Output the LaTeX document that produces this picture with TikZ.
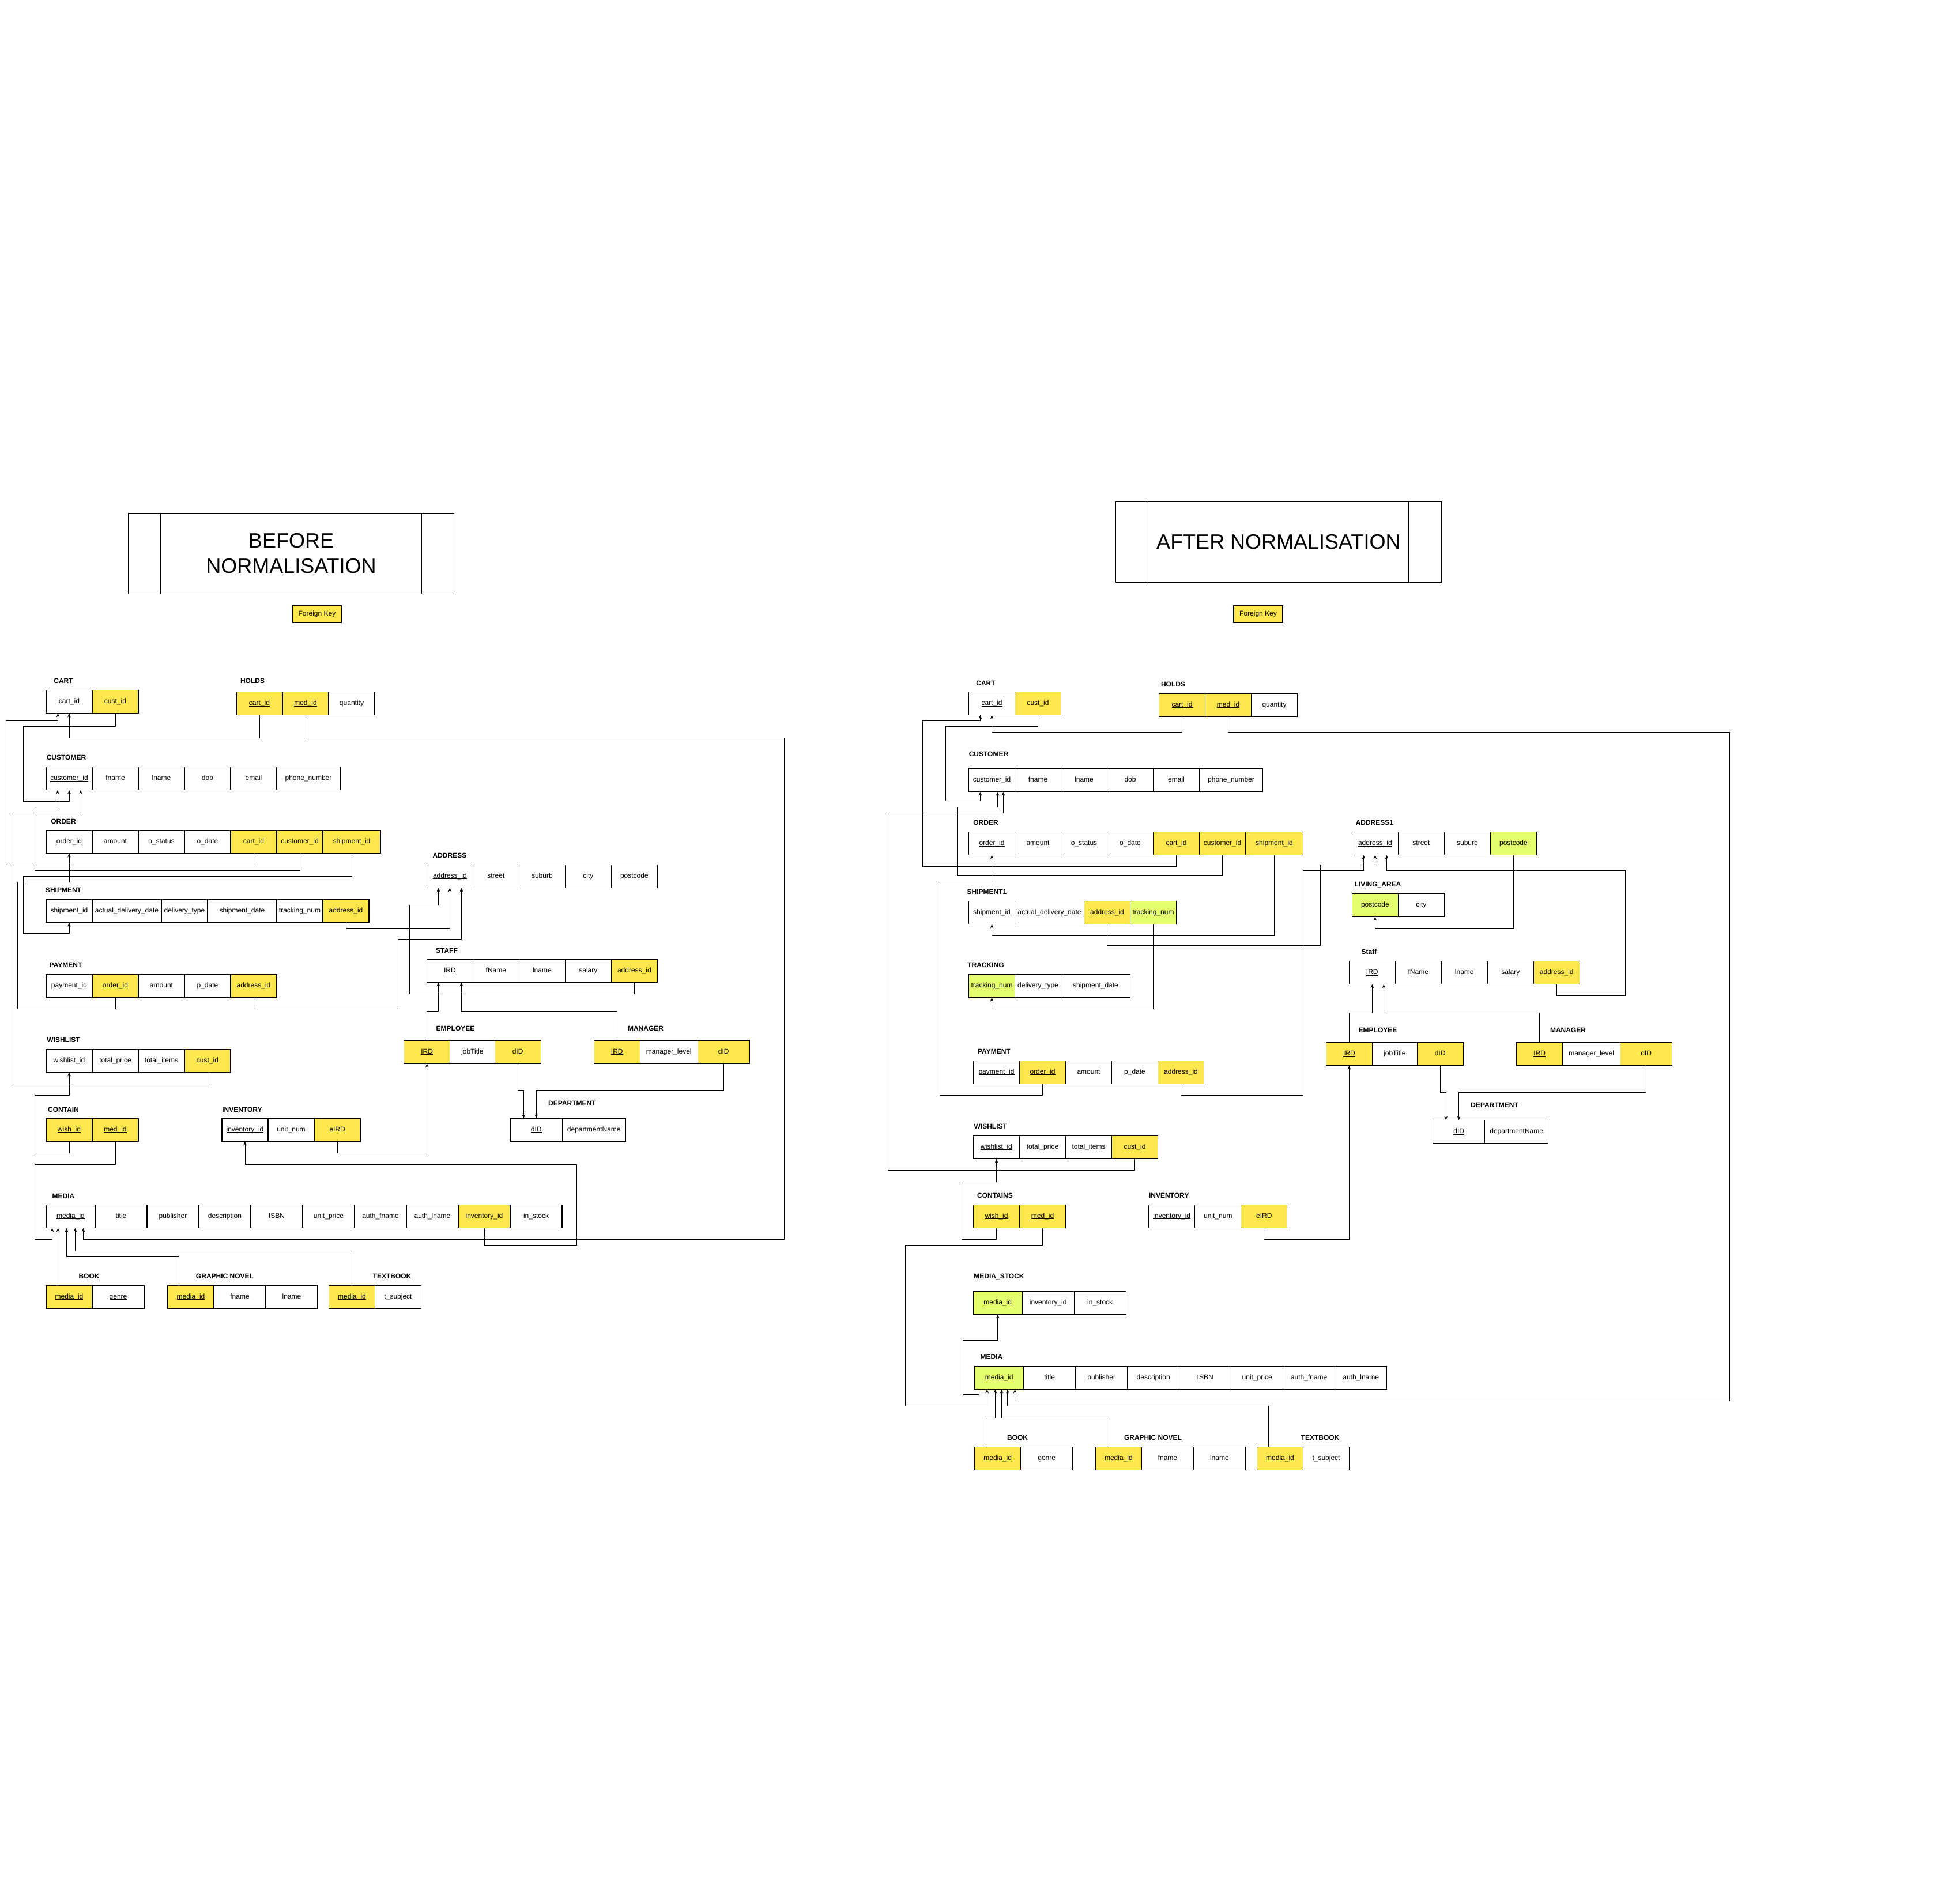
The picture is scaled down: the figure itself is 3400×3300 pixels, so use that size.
\documentclass[tikz,border=0pt]{standalone}
\usepackage{fontspec}
\setmainfont{Liberation Sans}
\usetikzlibrary{positioning}
\usetikzlibrary{arrows.meta}
\definecolor{fkyellow}{HTML}{FFE84D}
\definecolor{nfgreen}{HTML}{E6FF6E}
\newcommand{\pkey}[1]{\setbox0\hbox{#1}\rlap{\rule[-1.8pt]{\wd0}{0.8pt}}\box0}
\tikzset{x=1pt, y=-1pt, >={Stealth[length=7pt,width=5.5pt]}, line width=0.9pt}
\tikzstyle{attr} = [draw, fill=white, rectangle, line width=1.2pt, minimum width=80pt, minimum height=40pt, inner sep=0pt, outer sep=0pt, text height=8.6pt, text depth=2.5pt, font=\fontsize{12}{12}\selectfont]
\tikzstyle{fkey} = [attr, fill=fkyellow]
\tikzstyle{newkey} = [attr, fill=nfgreen]
\tikzstyle{tname} = [inner sep=0pt, text height=8.6pt, text depth=0pt, font=\fontsize{12}{12}\selectfont\bfseries]
\tikzstyle{banner} = [draw, rectangle, line width=1.2pt, align=center, inner sep=0pt, font=\fontsize{36}{44}\selectfont]
\tikzstyle{link} = [->, line width=0.9pt]

\begin{document}
\begin{tikzpicture}
    \useasboundingbox (0,0) rectangle (3400,3300);

    % ---------------- before normalisation ----------------
    \node [banner, minimum width=565pt, minimum height=140pt] (before_title) at (505,960.4) {BEFORE\\NORMALISATION};
    \draw [line width=1.2pt] ([xshift=57pt]before_title.north west) -- ([xshift=57pt]before_title.south west);
    \draw [line width=1.2pt] ([xshift=-57pt]before_title.north east) -- ([xshift=-57pt]before_title.south east);
    \node [fkey, minimum width=85pt, minimum height=30pt] (before_fk) at (550,1065.6) {Foreign Key};

    \node [tname] (b_cart_lbl) at (110,1181) {CART};
    \node [attr, anchor=north west] (b_cart_id) at (80,1197.4) {\pkey{cart\_id}};
    \node [fkey, right=0pt of b_cart_id] (b_cart_cust) {cust\_id};

    \node [tname] (b_holds_lbl) at (438,1181) {HOLDS};
    \node [fkey, anchor=north west] (b_holds_cart) at (410,1200.5) {\pkey{cart\_id}};
    \node [fkey, right=0pt of b_holds_cart] (b_holds_med) {\pkey{med\_id}};
    \node [attr, right=0pt of b_holds_med] (b_holds_qty) {quantity};

    \node [tname] (b_cust_lbl) at (115,1314.5) {CUSTOMER};
    \node [attr, anchor=north west] (b_cust_id) at (80,1330.6) {\pkey{customer\_id}};
    \node [attr, right=0pt of b_cust_id] (b_cust_fname) {fname};
    \node [attr, right=0pt of b_cust_fname] (b_cust_lname) {lname};
    \node [attr, right=0pt of b_cust_lname] (b_cust_dob) {dob};
    \node [attr, right=0pt of b_cust_dob] (b_cust_email) {email};
    \node [attr, right=0pt of b_cust_email, minimum width=110pt] (b_cust_phone) {phone\_number};

    \node [tname] (b_ord_lbl) at (110,1424.7) {ORDER};
    \node [attr, anchor=north west] (b_ord_id) at (80,1440.4) {\pkey{order\_id}};
    \node [attr, right=0pt of b_ord_id] (b_ord_amount) {amount};
    \node [attr, right=0pt of b_ord_amount] (b_ord_status) {o\_status};
    \node [attr, right=0pt of b_ord_status] (b_ord_date) {o\_date};
    \node [fkey, right=0pt of b_ord_date] (b_ord_cart) {cart\_id};
    \node [fkey, right=0pt of b_ord_cart] (b_ord_cust) {customer\_id};
    \node [fkey, right=0pt of b_ord_cust, minimum width=100pt] (b_ord_ship) {shipment\_id};

    \node [tname] (b_ship_lbl) at (110,1544.5) {SHIPMENT};
    \node [attr, anchor=north west] (b_ship_id) at (80,1560.6) {\pkey{shipment\_id}};
    \node [attr, right=0pt of b_ship_id, minimum width=120pt] (b_ship_adate) {actual\_delivery\_date};
    \node [attr, right=0pt of b_ship_adate] (b_ship_type) {delivery\_type};
    \node [attr, right=0pt of b_ship_type, minimum width=120pt] (b_ship_sdate) {shipment\_date};
    \node [attr, right=0pt of b_ship_sdate] (b_ship_track) {tracking\_num};
    \node [fkey, right=0pt of b_ship_track] (b_ship_addr) {address\_id};

    \node [tname] (b_pay_lbl) at (114,1674.2) {PAYMENT};
    \node [attr, anchor=north west] (b_pay_id) at (80,1690.3) {\pkey{payment\_id}};
    \node [fkey, right=0pt of b_pay_id] (b_pay_ord) {\pkey{order\_id}};
    \node [attr, right=0pt of b_pay_ord] (b_pay_amount) {amount};
    \node [attr, right=0pt of b_pay_amount] (b_pay_date) {p\_date};
    \node [fkey, right=0pt of b_pay_date] (b_pay_addr) {address\_id};

    \node [tname] (b_wish_lbl) at (110,1804.5) {WISHLIST};
    \node [attr, anchor=north west] (b_wish_id) at (80,1820.4) {\pkey{wishlist\_id}};
    \node [attr, right=0pt of b_wish_id] (b_wish_price) {total\_price};
    \node [attr, right=0pt of b_wish_price] (b_wish_items) {total\_items};
    \node [fkey, right=0pt of b_wish_items] (b_wish_cust) {cust\_id};

    \node [tname] (b_con_lbl) at (110,1924.7) {CONTAIN};
    \node [fkey, anchor=north west] (b_con_wish) at (80,1940.4) {\pkey{wish\_id}};
    \node [fkey, right=0pt of b_con_wish] (b_con_med) {\pkey{med\_id}};

    \node [tname] (b_inv_lbl) at (420,1924.7) {INVENTORY};
    \node [attr, anchor=north west] (b_inv_id) at (385,1940.4) {\pkey{inventory\_id}};
    \node [attr, right=0pt of b_inv_id] (b_inv_unit) {unit\_num};
    \node [fkey, right=0pt of b_inv_unit] (b_inv_eird) {eIRD};

    \node [tname] (b_media_lbl) at (110,2074.8) {MEDIA};
    \node [attr, anchor=north west, minimum width=85pt] (b_media_id) at (80,2090.4) {\pkey{media\_id}};
    \node [attr, right=0pt of b_media_id, minimum width=90pt] (b_media_title) {title};
    \node [attr, right=0pt of b_media_title, minimum width=90pt] (b_media_pub) {publisher};
    \node [attr, right=0pt of b_media_pub, minimum width=90pt] (b_media_desc) {description};
    \node [attr, right=0pt of b_media_desc, minimum width=90pt] (b_media_isbn) {ISBN};
    \node [attr, right=0pt of b_media_isbn, minimum width=90pt] (b_media_price) {unit\_price};
    \node [attr, right=0pt of b_media_price, minimum width=90pt] (b_media_afname) {auth\_fname};
    \node [attr, right=0pt of b_media_afname, minimum width=90pt] (b_media_alname) {auth\_lname};
    \node [fkey, right=0pt of b_media_alname, minimum width=90pt] (b_media_inv) {inventory\_id};
    \node [attr, right=0pt of b_media_inv, minimum width=90pt] (b_media_stock) {in\_stock};

    \node [tname] (b_book_lbl) at (154.5,2214.6) {BOOK};
    \node [fkey, anchor=north west] (b_book_id) at (80,2230.4) {\pkey{media\_id}};
    \node [attr, right=0pt of b_book_id, minimum width=90pt] (b_book_genre) {\pkey{genre}};

    \node [tname] (b_gn_lbl) at (390,2214.6) {GRAPHIC NOVEL};
    \node [fkey, anchor=north west] (b_gn_id) at (291,2230.4) {\pkey{media\_id}};
    \node [attr, right=0pt of b_gn_id, minimum width=90pt] (b_gn_fname) {fname};
    \node [attr, right=0pt of b_gn_fname, minimum width=90pt] (b_gn_lname) {lname};

    \node [tname] (b_tb_lbl) at (680,2214.6) {TEXTBOOK};
    \node [fkey, anchor=north west] (b_tb_id) at (570.5,2230.4) {\pkey{media\_id}};
    \node [attr, right=0pt of b_tb_id] (b_tb_subject) {t\_subject};

    \node [tname] (b_addr_lbl) at (780,1484.4) {ADDRESS};
    \node [attr, anchor=north west] (b_addr_id) at (740.4,1500.4) {\pkey{address\_id}};
    \node [attr, right=0pt of b_addr_id] (b_addr_street) {street};
    \node [attr, right=0pt of b_addr_street] (b_addr_suburb) {suburb};
    \node [attr, right=0pt of b_addr_suburb] (b_addr_city) {city};
    \node [attr, right=0pt of b_addr_city] (b_addr_post) {postcode};

    \node [tname] (b_staff_lbl) at (775,1648.7) {STAFF};
    \node [attr, anchor=north west] (b_staff_ird) at (740.4,1664.3) {\pkey{IRD}};
    \node [attr, right=0pt of b_staff_ird] (b_staff_fname) {fName};
    \node [attr, right=0pt of b_staff_fname] (b_staff_lname) {lname};
    \node [attr, right=0pt of b_staff_lname] (b_staff_salary) {salary};
    \node [fkey, right=0pt of b_staff_salary] (b_staff_addr) {address\_id};

    \node [tname] (b_emp_lbl) at (790,1784.4) {EMPLOYEE};
    \node [fkey, anchor=north west] (b_emp_ird) at (700.7,1805) {\pkey{IRD}};
    \node [attr, right=0pt of b_emp_ird, minimum width=77.4pt] (b_emp_job) {jobTitle};
    \node [fkey, right=0pt of b_emp_job] (b_emp_did) {dID};

    \node [tname] (b_mgr_lbl) at (1120,1784.4) {MANAGER};
    \node [fkey, anchor=north west] (b_mgr_ird) at (1030.3,1805) {\pkey{IRD}};
    \node [attr, right=0pt of b_mgr_ird, minimum width=100pt] (b_mgr_level) {manager\_level};
    \node [fkey, right=0pt of b_mgr_level, minimum width=90pt] (b_mgr_did) {dID};

    \node [tname] (b_dept_lbl) at (992.4,1914.6) {DEPARTMENT};
    \node [attr, anchor=north west, minimum width=90pt] (b_dept_id) at (885.3,1940.4) {\pkey{dID}};
    \node [attr, right=0pt of b_dept_id, minimum width=110pt] (b_dept_name) {departmentName};

    \draw [link] (b_ord_cart.south) |- (10,1500) -- (10,1250.3) -| ([xshift=-19.5pt]b_cart_id.south);
    \draw [link] (b_cart_cust.south) |- (40.6,1260.2) -- (40.6,1390.3) -| (b_cust_id.south);
    \draw [link] (b_holds_cart.south) |- (300,1280.1) -| (b_cart_id.south);
    \draw [link] (b_holds_med.south) |- (1360.3,1280.1) -- (1360.3,2150.1) -| ([xshift=22pt]b_media_id.south);
    \draw [link] (b_ord_cust.south) |- (60.3,1510.1) -- (60.3,1400.3) -| ([xshift=-20pt]b_cust_id.south);
    \draw [link] (b_wish_cust.south) |- (20.5,1880.4) -- (20.5,1410.2) -| ([xshift=20pt]b_cust_id.south);
    \draw [link] (b_ord_ship.south) |- (40.6,1520.4) -- (40.6,1619.9) -| (b_ship_id.south);
    \draw [link] (b_pay_ord.south) |- (30.4,1750.3) -- (30.4,1530.4) -| (b_ord_id.south);
    \draw [link] (b_ship_addr.south) |- (700,1610) -| (b_addr_id.south);
    \draw [link] (b_pay_addr.south) |- (690.6,1750.3) -- (690.6,1630.3) -| ([xshift=20pt]b_addr_id.south);
    \draw [link] (b_staff_addr.south) |- (710.3,1724.6) -- (710.3,1570.1) -| ([xshift=-20pt]b_addr_id.south);
    \draw [link] (b_emp_ird.north) |- (750,1754.9) -| ([xshift=-20pt]b_staff_ird.south);
    \draw [link] (b_mgr_ird.north) |- (900,1754.9) -| ([xshift=20pt]b_staff_ird.south);
    \draw [link] (b_emp_did.south) |- (903,1892.7) -| ([xshift=-22pt]b_dept_id.north);
    \draw [link] (b_mgr_did.south) |- (1000,1892.7) -| (b_dept_id.north);
    \draw [link] (b_inv_eird.south) |- (650,2000.4) -| (b_emp_ird.south);
    \draw [link] (b_media_inv.south) |- (1000.3,2160.4) -- (1000.3,2020.4) -| (b_inv_id.south);
    \draw [link] (b_con_wish.south) |- (60.3,2000.1) -- (60.3,1900.3) -| (b_wish_id.south);
    \draw [link] (b_con_med.south) |- (60.3,2020.4) -- (60.3,2150.1) -| ([xshift=-32pt]b_media_id.south);
    \draw [link] ([xshift=-19.4pt]b_book_id.north) -- ([xshift=-21.9pt]b_media_id.south);
    \draw [link] ([xshift=-20.7pt]b_gn_id.north) |- (200,2180.5) -| ([xshift=-7pt]b_media_id.south);
    \draw [link] (b_tb_id.north) |- (300,2170.4) -| ([xshift=8pt]b_media_id.south);

    % ---------------- after normalisation ----------------
    \node [banner, minimum width=565pt, minimum height=140pt] (after_title) at (2217.9,940.4) {AFTER NORMALISATION};
    \draw [line width=1.2pt] ([xshift=57pt]after_title.north west) -- ([xshift=57pt]after_title.south west);
    \draw [line width=1.2pt] ([xshift=-57pt]after_title.north east) -- ([xshift=-57pt]after_title.south east);
    \node [fkey, minimum width=85pt, minimum height=30pt] (after_fk) at (2182.5,1065.6) {Foreign Key};

    \node [tname] (a_cart_lbl) at (1710,1184.7) {CART};
    \node [attr, anchor=north west] (a_cart_id) at (1680.5,1200.5) {\pkey{cart\_id}};
    \node [fkey, right=0pt of a_cart_id] (a_cart_cust) {cust\_id};

    \node [tname] (a_holds_lbl) at (2035,1187.2) {HOLDS};
    \node [fkey, anchor=north west] (a_holds_cart) at (2010.5,1203.4) {\pkey{cart\_id}};
    \node [fkey, right=0pt of a_holds_cart] (a_holds_med) {\pkey{med\_id}};
    \node [attr, right=0pt of a_holds_med] (a_holds_qty) {quantity};

    \node [tname] (a_cust_lbl) at (1715,1307.7) {CUSTOMER};
    \node [attr, anchor=north west] (a_cust_id) at (1680.5,1333.6) {\pkey{customer\_id}};
    \node [attr, right=0pt of a_cust_id] (a_cust_fname) {fname};
    \node [attr, right=0pt of a_cust_fname] (a_cust_lname) {lname};
    \node [attr, right=0pt of a_cust_lname] (a_cust_dob) {dob};
    \node [attr, right=0pt of a_cust_dob] (a_cust_email) {email};
    \node [attr, right=0pt of a_cust_email, minimum width=110pt] (a_cust_phone) {phone\_number};

    \node [tname] (a_ord_lbl) at (1710,1427.6) {ORDER};
    \node [attr, anchor=north west] (a_ord_id) at (1680.5,1443.5) {\pkey{order\_id}};
    \node [attr, right=0pt of a_ord_id] (a_ord_amount) {amount};
    \node [attr, right=0pt of a_ord_amount] (a_ord_status) {o\_status};
    \node [attr, right=0pt of a_ord_status] (a_ord_date) {o\_date};
    \node [fkey, right=0pt of a_ord_date] (a_ord_cart) {cart\_id};
    \node [fkey, right=0pt of a_ord_cart] (a_ord_cust) {customer\_id};
    \node [fkey, right=0pt of a_ord_cust, minimum width=100pt] (a_ord_ship) {shipment\_id};

    \node [tname] (a_ship_lbl) at (1712,1547.4) {SHIPMENT1};
    \node [attr, anchor=north west] (a_ship_id) at (1680.5,1563.3) {\pkey{shipment\_id}};
    \node [attr, right=0pt of a_ship_id, minimum width=120pt] (a_ship_adate) {actual\_delivery\_date};
    \node [fkey, right=0pt of a_ship_adate] (a_ship_addr) {address\_id};
    \node [newkey, right=0pt of a_ship_addr] (a_ship_track) {tracking\_num};

    \node [tname] (a_track_lbl) at (1710,1674.5) {TRACKING};
    \node [newkey, anchor=north west] (a_track_id) at (1680.5,1690.3) {tracking\_num};
    \node [attr, right=0pt of a_track_id] (a_track_type) {delivery\_type};
    \node [attr, right=0pt of a_track_type, minimum width=120pt] (a_track_sdate) {shipment\_date};

    \node [tname] (a_pay_lbl) at (1724.4,1824.5) {PAYMENT};
    \node [attr, anchor=north west] (a_pay_id) at (1688.5,1840.3) {\pkey{payment\_id}};
    \node [fkey, right=0pt of a_pay_id] (a_pay_ord) {\pkey{order\_id}};
    \node [attr, right=0pt of a_pay_ord] (a_pay_amount) {amount};
    \node [attr, right=0pt of a_pay_amount] (a_pay_date) {p\_date};
    \node [fkey, right=0pt of a_pay_date] (a_pay_addr) {address\_id};

    \node [tname] (a_wish_lbl) at (1718.3,1954.6) {WISHLIST};
    \node [attr, anchor=north west] (a_wish_id) at (1688.5,1970.4) {\pkey{wishlist\_id}};
    \node [attr, right=0pt of a_wish_id] (a_wish_price) {total\_price};
    \node [attr, right=0pt of a_wish_price] (a_wish_items) {total\_items};
    \node [fkey, right=0pt of a_wish_items] (a_wish_cust) {cust\_id};

    \node [tname] (a_con_lbl) at (1726,2074.5) {CONTAINS};
    \node [fkey, anchor=north west] (a_con_wish) at (1688.5,2090.4) {\pkey{wish\_id}};
    \node [fkey, right=0pt of a_con_wish] (a_con_med) {\pkey{med\_id}};

    \node [tname] (a_inv_lbl) at (2027.7,2074.5) {INVENTORY};
    \node [attr, anchor=north west] (a_inv_id) at (1992.8,2090.4) {\pkey{inventory\_id}};
    \node [attr, right=0pt of a_inv_id] (a_inv_unit) {unit\_num};
    \node [fkey, right=0pt of a_inv_unit] (a_inv_eird) {eIRD};

    \node [tname] (a_ms_lbl) at (1733,2214.3) {MEDIA\_STOCK};
    \node [newkey, anchor=north west, minimum width=85pt] (a_ms_id) at (1688.2,2240.3) {\pkey{media\_id}};
    \node [attr, right=0pt of a_ms_id, minimum width=90pt] (a_ms_inv) {inventory\_id};
    \node [attr, right=0pt of a_ms_inv, minimum width=90pt] (a_ms_stock) {in\_stock};

    \node [tname] (a_media_lbl) at (1720,2354.6) {MEDIA};
    \node [newkey, anchor=north west, minimum width=85pt] (a_media_id) at (1690.7,2370.4) {\pkey{media\_id}};
    \node [attr, right=0pt of a_media_id, minimum width=90pt] (a_media_title) {title};
    \node [attr, right=0pt of a_media_title, minimum width=90pt] (a_media_pub) {publisher};
    \node [attr, right=0pt of a_media_pub, minimum width=90pt] (a_media_desc) {description};
    \node [attr, right=0pt of a_media_desc, minimum width=90pt] (a_media_isbn) {ISBN};
    \node [attr, right=0pt of a_media_isbn, minimum width=90pt] (a_media_price) {unit\_price};
    \node [attr, right=0pt of a_media_price, minimum width=90pt] (a_media_afname) {auth\_fname};
    \node [attr, right=0pt of a_media_afname, minimum width=90pt] (a_media_alname) {auth\_lname};

    \node [tname] (a_book_lbl) at (1765,2494.4) {BOOK};
    \node [fkey, anchor=north west] (a_book_id) at (1690.7,2510.2) {\pkey{media\_id}};
    \node [attr, right=0pt of a_book_id, minimum width=90pt] (a_book_genre) {\pkey{genre}};

    \node [tname] (a_gn_lbl) at (2000,2494.4) {GRAPHIC NOVEL};
    \node [fkey, anchor=north west] (a_gn_id) at (1900.4,2510.2) {\pkey{media\_id}};
    \node [attr, right=0pt of a_gn_id, minimum width=90pt] (a_gn_fname) {fname};
    \node [attr, right=0pt of a_gn_fname, minimum width=90pt] (a_gn_lname) {lname};

    \node [tname] (a_tb_lbl) at (2290,2494.4) {TEXTBOOK};
    \node [fkey, anchor=north west] (a_tb_id) at (2180.5,2510.2) {\pkey{media\_id}};
    \node [attr, right=0pt of a_tb_id] (a_tb_subject) {t\_subject};

    \node [tname] (a_addr_lbl) at (2384.4,1427.6) {ADDRESS1};
    \node [attr, anchor=north west] (a_addr_id) at (2345.4,1443.5) {\pkey{address\_id}};
    \node [attr, right=0pt of a_addr_id] (a_addr_street) {street};
    \node [attr, right=0pt of a_addr_street] (a_addr_suburb) {suburb};
    \node [newkey, right=0pt of a_addr_suburb] (a_addr_post) {postcode};

    \node [tname] (a_liv_lbl) at (2390,1534.2) {LIVING\_AREA};
    \node [newkey, anchor=north west] (a_liv_post) at (2345.4,1550.5) {\pkey{postcode}};
    \node [attr, right=0pt of a_liv_post] (a_liv_city) {city};

    \node [tname] (a_staff_lbl) at (2375,1651.5) {Staff};
    \node [attr, anchor=north west] (a_staff_ird) at (2340.3,1667.5) {\pkey{IRD}};
    \node [attr, right=0pt of a_staff_ird] (a_staff_fname) {fName};
    \node [attr, right=0pt of a_staff_fname] (a_staff_lname) {lname};
    \node [attr, right=0pt of a_staff_lname] (a_staff_salary) {salary};
    \node [fkey, right=0pt of a_staff_salary] (a_staff_addr) {address\_id};

    \node [tname] (a_emp_lbl) at (2390,1787.2) {EMPLOYEE};
    \node [fkey, anchor=north west] (a_emp_ird) at (2300.5,1808.7) {\pkey{IRD}};
    \node [attr, right=0pt of a_emp_ird, minimum width=77.6pt] (a_emp_job) {jobTitle};
    \node [fkey, right=0pt of a_emp_job] (a_emp_did) {dID};

    \node [tname] (a_mgr_lbl) at (2720,1787.2) {MANAGER};
    \node [fkey, anchor=north west] (a_mgr_ird) at (2630.6,1808.7) {\pkey{IRD}};
    \node [attr, right=0pt of a_mgr_ird, minimum width=100pt] (a_mgr_level) {manager\_level};
    \node [fkey, right=0pt of a_mgr_level, minimum width=90pt] (a_mgr_did) {dID};

    \node [tname] (a_dept_lbl) at (2592.6,1917.3) {DEPARTMENT};
    \node [attr, anchor=north west, minimum width=90pt] (a_dept_id) at (2485.7,1943.5) {\pkey{dID}};
    \node [attr, right=0pt of a_dept_id, minimum width=110pt] (a_dept_name) {departmentName};

    \draw [link] (a_ord_cart.south) |- (1600.4,1503.1) -- (1600.4,1250.5) -| ([xshift=-20pt]a_cart_id.south);
    \draw [link] (a_cart_cust.south) |- (1640.7,1260.2) -- (1640.7,1389.8) -| ([xshift=-20pt]a_cust_id.south);
    \draw [link] (a_holds_cart.south) |- (1900,1270.4) -| (a_cart_id.south);
    \draw [link] (a_holds_med.south) |- (3000.5,1270.4) -- (3000.5,2430.1) -| ([xshift=27.4pt]a_media_id.south);
    \draw [link] (a_ord_cust.south) |- (1660.6,1519.9) -- (1660.6,1400) -| ([xshift=10pt]a_cust_id.south);
    \draw [link] (a_wish_cust.south) |- (1540.7,2030.1) -- (1540.7,1410.7) -| ([xshift=20pt]a_cust_id.south);
    \draw [link] (a_ord_ship.south) |- (1900,1623) -| (a_ship_id.south);
    \draw [link] (a_pay_ord.south) |- (1630.5,1900) -- (1630.5,1530.1) -| (a_ord_id.south);
    \draw [link] (a_ship_addr.south) |- (2290.5,1640.3) -- (2290.5,1500.5) -| (a_addr_id.south);
    \draw [link] (a_pay_addr.south) |- (2260.7,1900) -- (2260.7,1510.7) -| ([xshift=-20pt]a_addr_id.south);
    \draw [link] (a_ship_track.south) |- (1900,1750) -| (a_track_id.south);
    \draw [link] (a_staff_addr.south) |- (2819.9,1727) -- (2819.9,1510.7) -| ([xshift=20pt]a_addr_id.south);
    \draw [link] (a_addr_post.south) |- (2500,1610.2) -| (a_liv_post.south);
    \draw [link] (a_emp_ird.north) |- (2360,1757.7) -| (a_staff_ird.south);
    \draw [link] (a_mgr_ird.north) |- (2500,1757.7) -| ([xshift=20pt]a_staff_ird.south);
    \draw [link] (a_emp_did.south) |- (2503,1895.9) -| ([xshift=-22.5pt]a_dept_id.north);
    \draw [link] (a_mgr_did.south) |- (2700,1895.9) -| (a_dept_id.north);
    \draw [link] (a_inv_eird.south) |- (2250,2150.5) -| (a_emp_ird.south);
    \draw [link] (a_con_wish.south) |- (1668.3,2150) -- (1668.3,2050.5) -| (a_wish_id.south);
    \draw [link] (a_con_med.south) |- (1570.3,2160.7) -- (1570.3,2439.8) -| ([xshift=-21pt]a_media_id.south);
    \draw [link] ([xshift=-34.8pt]a_media_id.south) |- (1670.3,2419.9) -- (1670.3,2325) -| (a_ms_id.south);
    \draw [link] ([xshift=-20pt]a_book_id.north) |- (1718,2460.2) -| ([xshift=-6.8pt]a_media_id.south);
    \draw [link] ([xshift=-20pt]a_gn_id.north) |- (1800,2460.5) -| ([xshift=4.5pt]a_media_id.south);
    \draw [link] ([xshift=-20pt]a_tb_id.north) |- (2000,2439.8) -| ([xshift=14.7pt]a_media_id.south);
\end{tikzpicture}
\end{document}
